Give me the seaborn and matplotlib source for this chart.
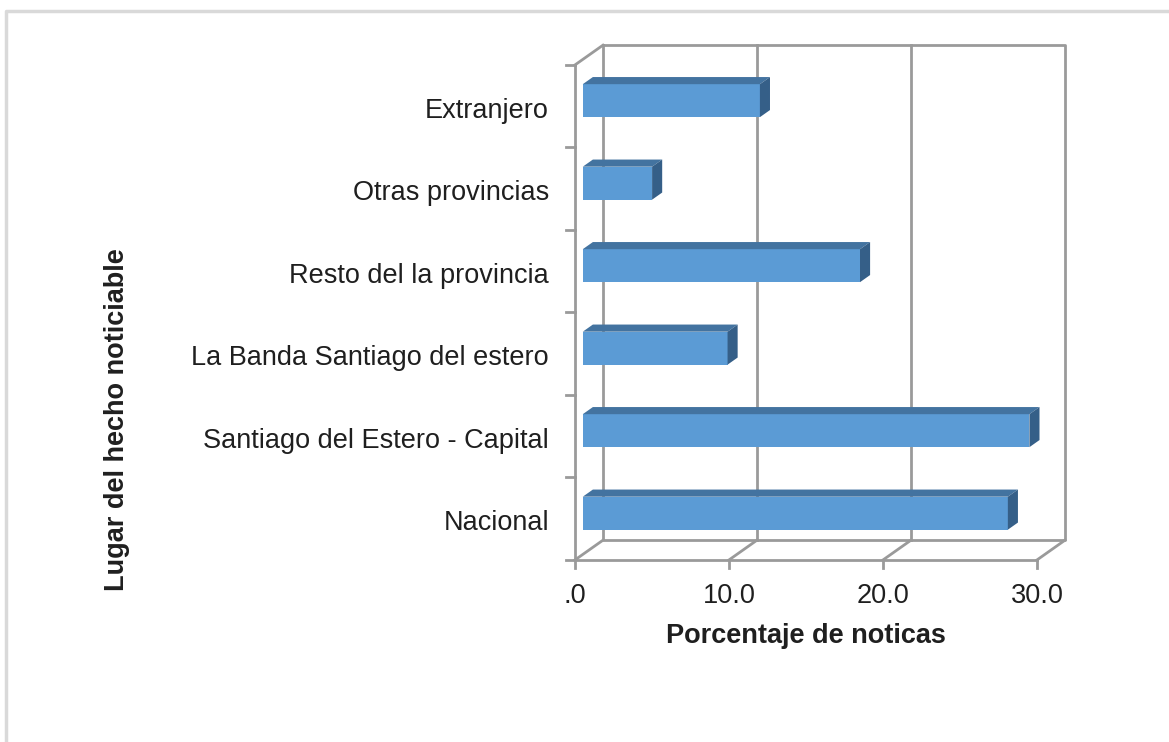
import numpy as np
import pandas as pd
import matplotlib
matplotlib.use('Agg')
import matplotlib.pyplot as plt
import matplotlib.transforms as mtransforms
from matplotlib.patches import Polygon
from matplotlib.lines import Line2D
import seaborn as sns

# Data (percent of news items per place)
categories = ['Extranjero', 'Otras provincias', 'Resto del la provincia',
              'La Banda Santiago del estero', 'Santiago del Estero - Capital', 'Nacional']
values = [11.5, 4.5, 18.0, 9.4, 29.0, 27.6]
x_ticks = [0, 10, 20, 30]
x_tick_labels = ['.0', '10.0', '20.0', '30.0']

df = pd.DataFrame({'Lugar': categories, 'Porcentaje': values})

# Theme and fonts
sns.set_theme(style='white')
plt.rcParams['font.family'] = ['Liberation Sans', 'DejaVu Sans']

text_color = '#1f1f1f'
grid_color = '#9a9a9a'
face_color = '#5B9BD5'
top_color = '#4373A0'
side_color = '#355F88'
fs = 19.5

# 3D depth vector in data units (x in %, y in category steps)
DX, DY = 1.82, -0.24
bar_start, bar_depth = 0.28, 0.36

fig = plt.figure(figsize=(11.69, 7.42), dpi=100)
ax = fig.add_axes([0.4826, 0.2342, 0.4308, 0.7116])

sns.barplot(data=df, x='Porcentaje', y='Lugar', orient='h', color=face_color,
            saturation=1, width=0.4, linewidth=0, ax=ax, zorder=3)

ax.set_xlim(-0.7, 32)
ax.set_ylim(5.6, -0.8)
ax.set_xlabel('')
ax.set_ylabel('')
ax.set_xticks([])
ax.set_yticks([])
for s in ax.spines.values():
    s.set_visible(False)

# Walls and floor
n = len(categories)
y0, y1 = -0.5, n - 0.5
line_kw = dict(color=grid_color, lw=2, zorder=1, clip_on=False, solid_capstyle='projecting')
# back wall frame and gridlines
ax.plot([DX, x_ticks[-1] + DX, x_ticks[-1] + DX, DX, DX],
        [y0 + DY, y0 + DY, y1 + DY, y1 + DY, y0 + DY], **line_kw)
for t in x_ticks[1:-1]:
    ax.plot([t + DX, t + DX], [y0 + DY, y1 + DY], **line_kw)
# floor
ax.plot([0, x_ticks[-1]], [y1, y1], **line_kw)
for t in x_ticks:
    ax.plot([t, t + DX], [y1, y1 + DY], **line_kw)
    ax.plot([t, t], [y1, y1 + 0.1], **line_kw)
# left wall
ax.plot([0, 0], [y0, y1], **line_kw)
ax.plot([0, DX], [y0, y0 + DY], **line_kw)
for b in np.arange(n + 1) - 0.5:
    ax.plot([-0.55, 0], [b, b], **line_kw)

# Push bars into the box and add top / side faces
for p in ax.patches:
    p.set_x(p.get_x() + bar_start * DX)
    p.set_y(p.get_y() + bar_start * DY)
    xa, xb = p.get_x(), p.get_x() + p.get_width()
    ya, yb = p.get_y(), p.get_y() + p.get_height()
    ddx, ddy = bar_depth * DX, bar_depth * DY
    top = Polygon([(xa, ya), (xb, ya), (xb + ddx, ya + ddy), (xa + ddx, ya + ddy)],
                  closed=True, facecolor=top_color, edgecolor='none', zorder=3)
    side = Polygon([(xb, ya), (xb, yb), (xb + ddx, yb + ddy), (xb + ddx, ya + ddy)],
                   closed=True, facecolor=side_color, edgecolor='none', zorder=3)
    ax.add_patch(top)
    ax.add_patch(side)

# Category labels (right aligned, left of the front wall)
lab_tr = ax.transData + mtransforms.ScaledTranslation(-0.26, -0.115, fig.dpi_scale_trans)
for i, c in enumerate(categories):
    ax.text(0, i, c, transform=lab_tr, ha='right', va='baseline',
            fontsize=fs, color=text_color)

# X tick labels under the front floor edge
tick_tr = ax.transData + mtransforms.ScaledTranslation(0, -0.43, fig.dpi_scale_trans)
for t, lab in zip(x_ticks, x_tick_labels):
    ax.text(t, y1, lab, transform=tick_tr, ha='center', va='baseline',
            fontsize=fs, color=text_color)

# Axis titles
fig.text(806 / 1169, 1 - 643 / 742, 'Porcentaje de noticas', ha='center', va='baseline',
         fontsize=fs, fontweight='bold', color=text_color)
fig.text(117 / 1169, 1 - 420 / 742, 'Lugar del hecho noticiable', ha='center', va='center',
         rotation=90, fontsize=fs, fontweight='bold', color=text_color)

# Light outer frame
fig.add_artist(Line2D([6 / 1169, 6 / 1169, 1.0], [0.0, 1 - 11 / 742, 1 - 11 / 742],
                      transform=fig.transFigure, color='#d9d9d9', lw=2.5))

fig.savefig('out.png', dpi=100)
